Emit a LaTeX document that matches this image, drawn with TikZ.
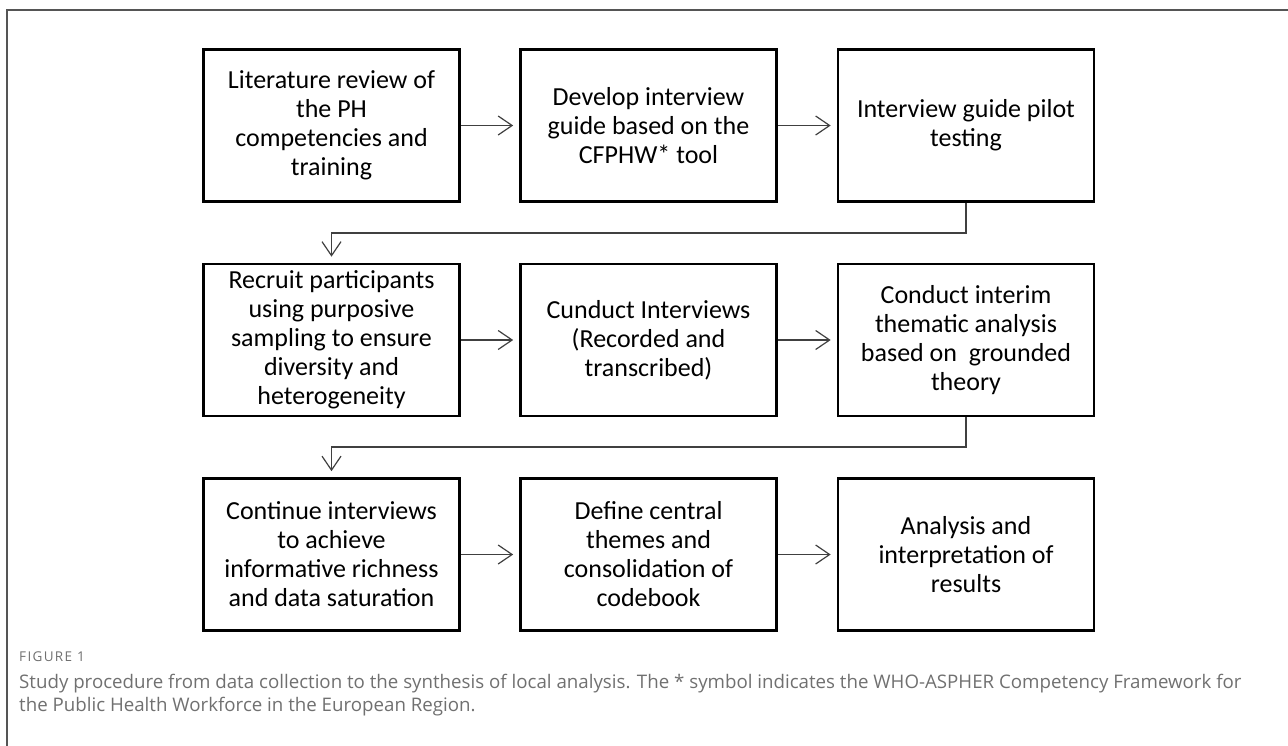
\documentclass[tikz,border=0pt]{standalone}
\usepackage{fontspec}
\setmainfont{Carlito}
\newfontfamily\capfont{Open Sans}
\newfontfamily\figfont[LetterSpace=10]{Open Sans}
\usetikzlibrary{arrows.meta}
\definecolor{framegray}{HTML}{555555}
\definecolor{capgray}{HTML}{707070}
\definecolor{linegray}{HTML}{404040}
\tikzset{
  stepbox/.style={draw=black, line width=2.6pt, minimum width=256pt, minimum height=152pt,
    align=center, inner sep=0pt, font=\fontsize{26}{29}\selectfont},
  flow/.style={draw=linegray, line width=1.2pt, -{Straight Barb[length=14pt,width=19pt,line width=1.2pt]}, shorten >=6pt},
  captext/.style={anchor=west, inner sep=0pt, text=capgray}
}
\begin{document}
\begin{tikzpicture}[x=1pt,y=-1pt]
\useasboundingbox (0,0) rectangle (1288,745);
\draw[framegray, line width=2pt] (7,760) -- (7,10) -- (1300,10);
% row 1
\node[stepbox] (a1) at (331.5,125.5) {Literature review of\\the PH\\competencies and\\training};
\node[stepbox] (a2) at (648.5,125.5) {Develop interview\\guide based on the\\CFPHW* tool};
\node[stepbox] (a3) at (966,125.5) {Interview guide pilot\\testing};
% row 2
\node[stepbox] (b1) at (331.5,340) {Recruit participants\\using purposive\\sampling to ensure\\diversity and\\heterogeneity};
\node[stepbox] (b2) at (648.5,340) {Cunduct Interviews\\(Recorded and\\transcribed)};
\node[stepbox] (b3) at (966,340) {Conduct interim\\thematic analysis\\based on\ \ grounded\\theory};
% row 3
\node[stepbox] (c1) at (331.5,554.5) {Continue interviews\\to achieve\\informative richness\\and data saturation};
\node[stepbox] (c2) at (648.5,554.5) {Define central\\themes and\\consolidation of\\codebook};
\node[stepbox] (c3) at (966,554.5) {Analysis and\\interpretation of\\results};
% connectors
\draw[flow] (a1.east) -- (a2.west);
\draw[flow] (a2.east) -- (a3.west);
\draw[flow] (b1.east) -- (b2.west);
\draw[flow] (b2.east) -- (b3.west);
\draw[flow] (c1.east) -- (c2.west);
\draw[flow] (c2.east) -- (c3.west);
\draw[flow] (a3.south) -- (966,233) -- (331.5,233) -- (b1.north);
\draw[flow] (b3.south) -- (966,447) -- (331.5,447) -- (c1.north);
% caption
\node[captext, font=\figfont\fontsize{13.5}{14}\selectfont] (fig) at (19,657) {FIGURE 1};
\node[captext, font=\capfont\fontsize{18.7}{23}\selectfont] (cap1) at (19,684) {Study procedure from data collection to the synthesis of local analysis. The * symbol indicates the WHO-ASPHER Competency Framework for};
\node[captext, font=\capfont\fontsize{18.7}{23}\selectfont] (cap2) at (19,707) {the Public Health Workforce in the European Region.};
\end{tikzpicture}
\end{document}
